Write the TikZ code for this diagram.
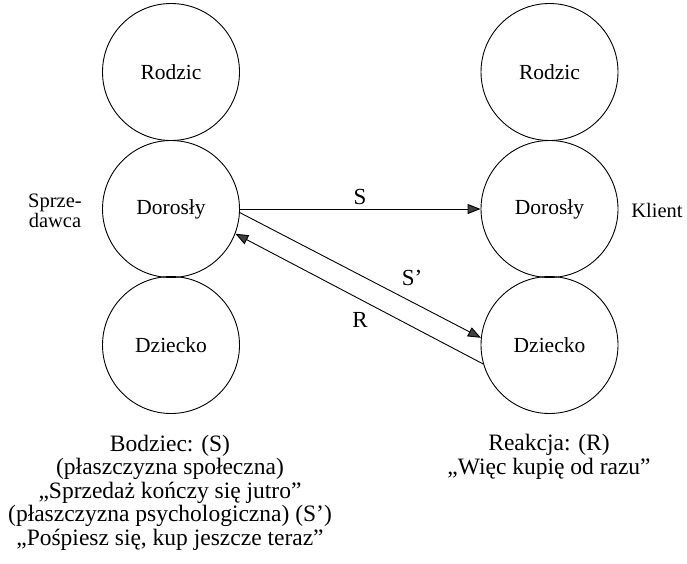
\documentclass[tikz,border=0pt]{standalone}
\usepackage{fontspec}
\setmainfont{Liberation Serif}
\usetikzlibrary{arrows.meta}
\begin{document}
\begin{tikzpicture}[x=1pt,y=-1pt,
  state/.style={circle,draw,line width=0.9pt,minimum size=137pt,inner sep=0pt,
                font=\fontsize{21.5}{24}\selectfont},
  flow/.style={line width=0.9pt,-{Triangle[length=13pt,width=10pt,fill=black!75]}},
  lab/.style={font=\fontsize{23}{26}\selectfont},
  side/.style={font=\fontsize{20.5}{18}\selectfont,align=center},
  caption/.style={font=\fontsize{23.5}{23.5}\selectfont,align=center,anchor=base}]
  \useasboundingbox (0,0) rectangle (687,563);

  % ego states of the seller
  \node[state] (lr) at (171,72)  {Rodzic};
  \node[state] (ld) at (171,209) {Dorosły};
  \node[state] (lc) at (171,345) {Dziecko};

  % ego states of the client
  \node[state] (rr) at (549.5,72)  {Rodzic};
  \node[state] (rd) at (549.5,209) {Dorosły};
  \node[state] (rc) at (549.5,345) {Dziecko};

  \node[side] (seller) at (55,211) {Sprze-\\dawca};
  \node[side] (client) at (657,210) {Klient};

  % transactions
  \draw[flow] (ld.east) -- (rd.west);
  \draw[flow] (ld.-3) -- (rc.174);
  \draw[flow] (rc.196) -- (ld.-21);

  \node[lab] (ls) at (360,197) {S};
  \node[lab] (lsp) at (412,278) {S’};
  \node[lab] (lr2) at (360,320) {R};

  % descriptions (anchored at the baseline of the last line)
  \node[caption] (stim) at (170,545) {Bodziec: (S)\\(płaszczyzna społeczna)\\„Sprzedaż kończy się jutro”\\(płaszczyzna psychologiczna) (S’)\\„Pośpiesz się, kup jeszcze teraz”};
  \node[caption] (resp) at (549,474) {Reakcja: (R)\\„Więc kupię od razu”};
\end{tikzpicture}
\end{document}
